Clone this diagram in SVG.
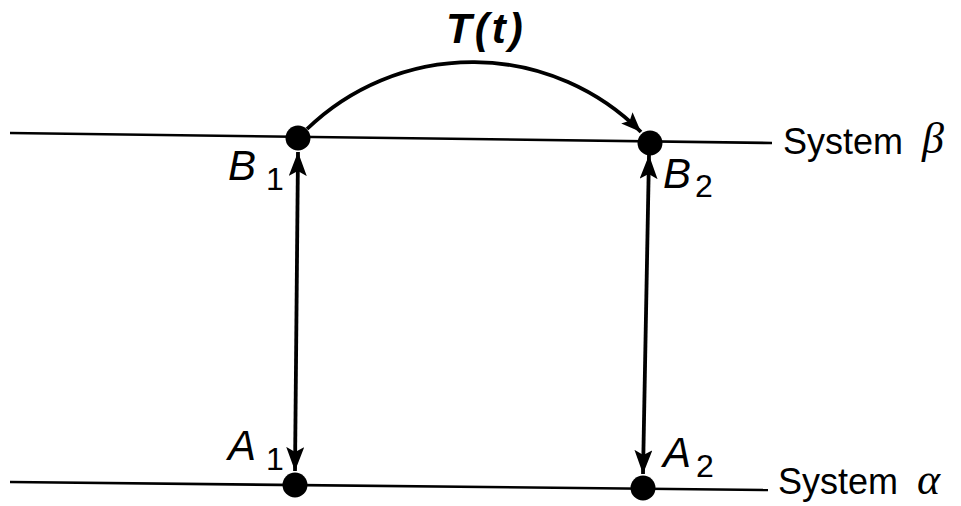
<svg xmlns="http://www.w3.org/2000/svg" width="961" height="506" viewBox="0 0 961 506">
<defs>
<style>
.line{stroke:#000;stroke-width:2.6;fill:none}
.conn{stroke:#000;stroke-width:3.8;fill:none}
.dot{fill:#000}
.lbl{font-family:"Liberation Sans",Arial,sans-serif;font-style:italic;font-size:42px;fill:#000}
.sub{font-family:"Liberation Sans",Arial,sans-serif;font-size:32px;fill:#000}
.sys{font-family:"Liberation Sans",Arial,sans-serif;font-size:36px;fill:#000}
.greek{font-family:"Liberation Serif","DejaVu Serif",serif;font-style:italic;font-size:44px;fill:#000}
</style>
<marker id="ah" markerUnits="userSpaceOnUse" markerWidth="26" markerHeight="18" refX="24" refY="9" orient="auto-start-reverse" viewBox="0 0 26 18">
<path d="M0,0 L24,9 L0,18 L5,9 z" fill="#000"/>
</marker>
<marker id="ah2" markerUnits="userSpaceOnUse" markerWidth="22" markerHeight="16" refX="20" refY="8" orient="auto" viewBox="0 0 22 16">
<path d="M0,0 L20,8 L0,16 L4,8 z" fill="#000"/>
</marker>
</defs>
<rect width="961" height="506" fill="#fff"/>
<g id="systems">
<line class="line" x1="10" y1="133" x2="772" y2="143"/>
<line class="line" x1="10" y1="482" x2="768" y2="490"/>
<text class="sys" x="783" y="154">System</text>
<text class="greek" x="922" y="153">β</text>
<text class="sys" x="778" y="494">System</text>
<text class="greek" x="917" y="494">α</text>
</g>
<g id="connectors">
<path class="conn" d="M307,129 A238,238 0 0 1 641,132" marker-end="url(#ah2)"/>
<line class="conn" x1="298" y1="152" x2="295" y2="471" marker-start="url(#ah)" marker-end="url(#ah)"/>
<line class="conn" x1="649" y1="155" x2="643" y2="474" marker-start="url(#ah)" marker-end="url(#ah)"/>
<text class="lbl" x="446" y="43" font-size="38" font-weight="bold" letter-spacing="3">T(t)</text>
</g>
<g id="B1"><circle class="dot" cx="298" cy="138" r="12.5"/><text class="lbl" x="228" y="180">B</text><text class="sub" x="266" y="190">1</text></g>
<g id="B2"><circle class="dot" cx="650" cy="143" r="12.5"/><text class="lbl" x="663" y="188">B</text><text class="sub" x="695" y="197">2</text></g>
<g id="A1"><circle class="dot" cx="295" cy="485" r="12.5"/><text class="lbl" x="228" y="460">A</text><text class="sub" x="266" y="470">1</text></g>
<g id="A2"><circle class="dot" cx="643" cy="488" r="12.5"/><text class="lbl" x="663" y="467">A</text><text class="sub" x="696" y="477">2</text></g>
</svg>
